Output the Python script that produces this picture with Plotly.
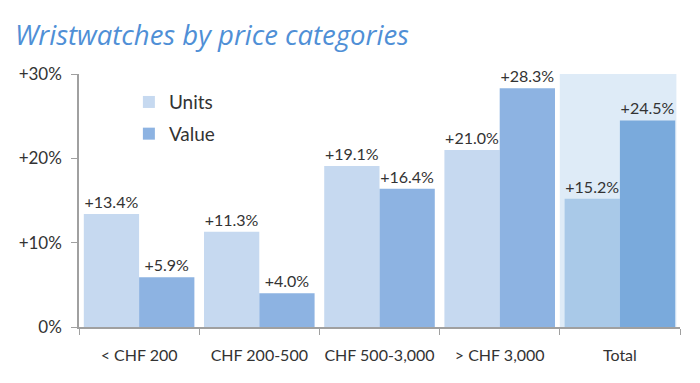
import plotly.graph_objects as go

categories = ["< CHF 200", "CHF 200-500", "CHF 500-3,000", "> CHF 3,000", "Total"]
units = [13.4, 11.3, 19.1, 21.0, 15.2]
value = [5.9, 4.0, 16.4, 28.3, 24.5]
y_ticks = [0, 10, 20, 30]
y_tick_labels = ["0%", "+10%", "+20%", "+30%"]

units_labels = [f"+{v:.1f}%" for v in units]
value_labels = [f"+{v:.1f}%" for v in value]

units_colors = ["#c6d9f0"] * 4 + ["#a9c9e8"]
value_colors = ["#8db3e2"] * 4 + ["#7aaadc"]

font_family = "Lato, Open Sans, sans-serif"

fig = go.Figure()
fig.add_trace(go.Bar(
    x=categories, y=units, name="Units", legendgroup="u",
    marker=dict(color=units_colors, line=dict(width=0)),
    text=units_labels, texttemplate="%{text}", textposition="outside",
    textfont=dict(size=16, color="#333333", family=font_family),
    cliponaxis=False,
))
fig.add_trace(go.Bar(
    x=categories, y=value, name="Value", legendgroup="v",
    marker=dict(color=value_colors, line=dict(width=0)),
    text=value_labels, texttemplate="%{text}", textposition="outside",
    textfont=dict(size=16, color="#333333", family=font_family),
    cliponaxis=False,
))

fig.add_shape(type="rect", xref="x", yref="y", x0=3.5, x1=4.47, y0=0, y1=30,
              fillcolor="#deebf7", line=dict(width=0), layer="below")

fig.update_layout(
    width=692, height=375,
    margin=dict(l=71, r=20, t=66, b=56),
    paper_bgcolor="white", plot_bgcolor="white",
    barmode="group", bargap=0.08, bargroupgap=0,
    font=dict(family=font_family, color="#333333", size=16),
    title=dict(text="<i>Wristwatches by price categories</i>",
               x=0.01, xanchor="left", y=0.928, yanchor="middle",
               font=dict(size=27.5, color="#4f8fd6", family="Open Sans, sans-serif")),
    legend=dict(x=0.083, y=0.964, xanchor="left", yanchor="top",
                font=dict(size=19, color="#333333"),
                bgcolor="rgba(0,0,0,0)", tracegroupgap=4, traceorder="grouped"),
    xaxis=dict(type="category", showline=True, linecolor="#a0a0a0", linewidth=1.5,
               ticks="outside", ticklen=6, tickcolor="#a0a0a0", tickson="boundaries",
               tickangle=0, automargin=False, ticklabelstandoff=13,
               tickfont=dict(size=16), showgrid=False),
    yaxis=dict(range=[0, 30], tickvals=y_ticks, ticktext=y_tick_labels,
               showline=True, linecolor="#a0a0a0", linewidth=1.5,
               ticks="outside", ticklen=6, tickcolor="#a0a0a0", automargin=False,
               ticklabelstandoff=6,
               tickfont=dict(size=17), showgrid=False, zeroline=False),
)

fig.write_html("out.html")
